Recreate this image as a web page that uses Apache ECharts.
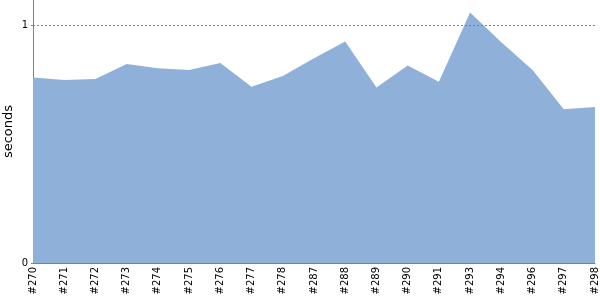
<!DOCTYPE html>
<html><head><meta charset="utf-8">
<script src="https://cdn.jsdelivr.net/npm/echarts@6/dist/echarts.min.js"></script>
<style>html,body{margin:0;padding:0;background:#fff}#c{width:600px;height:300px}</style>
</head><body><div id="c"></div>
<script>
const categories = ["#270","#271","#272","#273","#274","#275","#276","#277","#278","#287","#288","#289","#290","#291","#293","#294","#296","#297","#298"];
const seconds = [0.779,0.769,0.773,0.836,0.818,0.811,0.840,0.741,0.786,0.860,0.931,0.737,0.830,0.762,1.053,0.927,0.811,0.646,0.655];
const yTicks = [0,1];

const chart = echarts.init(document.getElementById('c'), null, {renderer:'canvas'});
chart.setOption({
  animation:false,
  grid:{left:33,right:5,top:0,bottom:37,containLabel:false,outerBoundsMode:'none'},
  xAxis:{type:'category',data:categories,boundaryGap:false,
    axisLine:{lineStyle:{color:'#808080'}},axisTick:{show:false},
    axisLabel:{rotate:90,interval:0,color:'#000',fontFamily:'DejaVu Sans',fontSize:10,margin:4}},
  yAxis:{type:'value',min:0,max:1.105,name:'seconds',nameLocation:'middle',nameGap:18,nameMoveOverlap:false,
    nameTextStyle:{color:'#000',fontFamily:'DejaVu Sans',fontSize:13},
    axisLine:{show:true,lineStyle:{color:'#808080'}},
    axisTick:{show:true,customValues:yTicks,length:2,lineStyle:{color:'#808080'}},
    axisLabel:{customValues:yTicks,color:'#000',fontFamily:'DejaVu Sans',fontSize:10,margin:5},
    splitLine:{show:false}},
  series:[{type:'line',data:seconds,symbol:'none',lineStyle:{width:0},
    areaStyle:{color:'#8fb1d9',opacity:1},
    markLine:{silent:true,symbol:'none',label:{show:false},
      lineStyle:{color:'#808080',type:[2,2],width:1},data:[{yAxis:1}]}}]
});
</script></body></html>
